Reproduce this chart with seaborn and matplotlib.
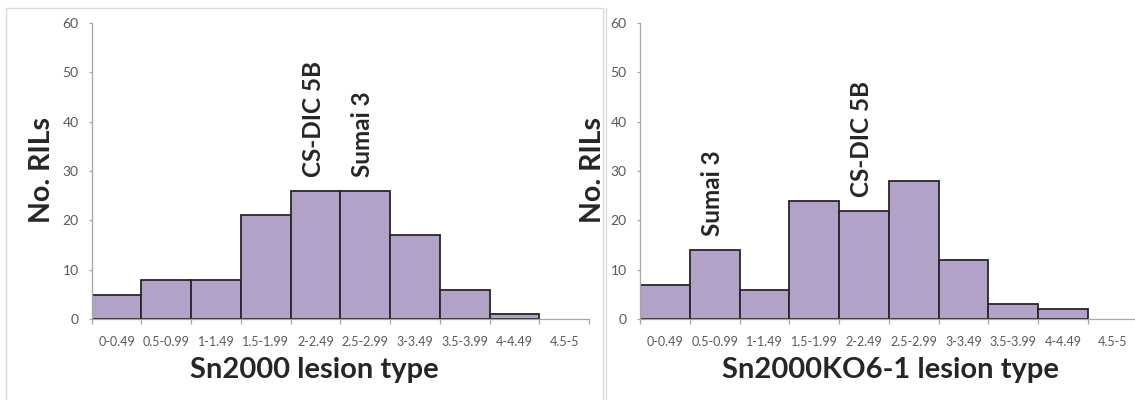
import matplotlib
matplotlib.use("Agg")
import matplotlib.pyplot as plt
from matplotlib.lines import Line2D
from matplotlib.patches import Rectangle
import seaborn as sns
import pandas as pd
import numpy as np

# Lesion-type score bins shared by both panels
bins = ["0-0.49", "0.5-0.99", "1-1.49", "1.5-1.99", "2-2.49",
        "2.5-2.99", "3-3.49", "3.5-3.99", "4-4.49", "4.5-5"]

# Number of RILs per bin
sn2000_counts = [5, 8, 8, 21, 26, 26, 17, 6, 1, 0]
ko6_counts = [7, 14, 6, 24, 22, 28, 12, 3, 2, 0]

# Parental lines placed above the bin they fall into
sn2000_parents = [("CS-DIC 5B", 4), ("Sumai 3", 5)]
ko6_parents = [("Sumai 3", 1), ("CS-DIC 5B", 4)]

titles = ["Sn2000 lesion type", "Sn2000KO6-1 lesion type"]
ylabel = "No. RILs"

sns.set_theme(style="white")
plt.rcParams["font.family"] = ["Lato", "DejaVu Sans"]

BAR = "#b3a2c7"
EDGE = "#262626"
AXIS = "#a6a6a6"
TICKTXT = "#595959"

W, H = 1135, 400
fig = plt.figure(figsize=(W / 100, H / 100), dpi=100)

# Panel frames
fig.patches.append(Rectangle((6 / W, -0.1), (603.3 - 6) / W, 1.1 - 8 / H,
                             transform=fig.transFigure, fill=False,
                             edgecolor="#d9d9d9", linewidth=1.0))
fig.lines.append(Line2D([606 / W, 606 / W], [0, 1 - 8 / H],
                        transform=fig.transFigure, color="#d9d9d9", linewidth=1.0))

y0, y60 = 319.3, 22.7
step = 49.75
# (axes left edge px, counts, parents, x title, title centre px, y-label centre px)
panels = [
    (91.7, sn2000_counts, sn2000_parents, titles[0], 314, 42),
    (640.0, ko6_counts, ko6_parents, titles[1], 890, 593),
]

for left, counts, parents, title, title_x, ylab_x in panels:
    ax = fig.add_axes([left / W, (H - y0) / H, 10 * step / W, (y0 - y60) / H])
    df = pd.DataFrame({"bin": bins, "count": counts})
    sns.barplot(data=df, x="bin", y="count", order=bins, color=BAR,
                saturation=1, width=1.0, edgecolor=EDGE, linewidth=1.3, ax=ax)
    for p, c in zip(ax.patches, counts):
        if c == 0:
            p.set_visible(False)

    ax.set_xlim(-0.5, 9.5)
    ax.set_ylim(0, 60)
    ax.set_yticks(np.arange(0, 61, 10))
    ax.set_xticks(np.arange(10))
    ax.set_xticklabels(bins)
    ax.set_xticks(np.arange(-0.5, 10, 1), minor=True)
    ax.tick_params(axis="x", which="major", length=0, pad=12,
                   labelsize=9, labelcolor=TICKTXT)
    ax.tick_params(axis="x", which="minor", length=3.5, width=0.9,
                   color=AXIS, bottom=True)
    ax.tick_params(axis="y", length=2.5, width=0.9, color=AXIS, left=True,
                   pad=7, labelsize=10, labelcolor=TICKTXT)

    for s in ("top", "right"):
        ax.spines[s].set_visible(False)
    for s in ("left", "bottom"):
        ax.spines[s].set_color(AXIS)
        ax.spines[s].set_linewidth(0.9)

    ax.set_xlabel("")
    ax.set_ylabel("")
    fig.text(ylab_x / W, (H - 170) / H, ylabel, rotation=90, fontsize=20.5,
             fontweight="bold", ha="center", va="center")
    fig.text(title_x / W, (H - 370) / H, title, fontsize=21,
             fontweight="bold", ha="center", va="center")

    for name, idx in parents:
        ax.annotate(name, xy=(idx - 0.05, counts[idx]), xytext=(0, 10),
                    textcoords="offset points", rotation=90, ha="center",
                    va="bottom", fontsize=17.5, fontweight="bold")

fig.savefig("out.png", dpi=100)
